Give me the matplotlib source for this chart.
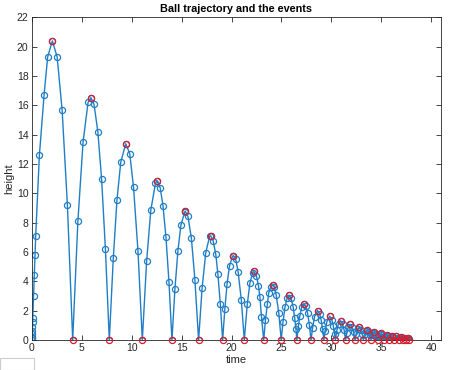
import matplotlib
matplotlib.use("Agg")
import matplotlib.pyplot as plt
from matplotlib.patches import Rectangle

# solver output points (time, height)
t_pts = [0, 0.006, 0.012, 0.02, 0.032, 0.046, 0.06, 0.075, 0.155, 0.23, 0.30, 0.37,
         0.74, 1.21, 1.57, 2.04, 2.52, 3.02, 3.55, 4.08,
         4.60, 5.12, 5.62, 5.91, 6.22, 6.60, 6.98, 7.36, 7.75,
         8.15, 8.52, 8.90, 9.40, 9.80, 10.18, 10.62, 11.06,
         11.49, 11.91, 12.38, 12.54, 12.85, 13.13, 13.43, 13.73, 14.03,
         14.33, 14.63, 14.93, 15.30, 15.37, 15.63, 15.98, 16.33, 16.70,
         17.05, 17.42, 17.80, 17.91, 18.15, 18.42, 18.63, 18.88, 19.11,
         19.33, 19.55, 19.80, 20.10, 20.19, 20.42, 20.66, 20.98, 21.28,
         21.58, 21.85, 22.12, 22.25, 22.50, 22.70, 22.85, 23.00, 23.23,
         23.40, 23.60, 23.73, 23.93, 24.11, 24.30, 24.47, 24.74, 24.98,
         25.16, 25.36, 25.58, 25.77, 25.98, 26.18, 26.33, 26.46, 26.55,
         26.70, 26.85, 27.05, 27.26, 27.45, 27.63, 27.80, 27.97,
         28.13, 28.33, 28.62, 28.83, 28.98, 29.13, 29.26,
         29.38, 29.56, 29.84, 30.06, 30.21, 30.34, 30.41,
         30.56, 30.73, 30.93, 31.13, 31.29, 31.44,
         31.56, 31.72, 31.91, 32.09, 32.24, 32.38,
         32.50, 32.63, 32.80, 32.98, 33.10, 33.22,
         33.34, 33.47, 33.60, 33.77, 33.88, 33.97,
         34.09, 34.20, 34.31, 34.47, 34.57, 34.65,
         34.76, 34.86, 34.96, 35.10, 35.19, 35.26,
         35.37, 35.54, 35.68, 35.81,
         35.91, 36.06, 36.20, 36.31,
         36.40, 36.53, 36.65, 36.75,
         36.83, 36.95, 37.06, 37.16,
         37.24, 37.34, 37.44, 37.52,
         37.60, 37.68, 37.77, 37.84]
h_pts = [0, 0.11, 0.23, 0.41, 0.64, 0.91, 1.20, 1.48, 3.0, 4.4, 5.8, 7.1,
         12.6, 16.7, 19.3, 20.39, 19.3, 15.66, 9.2, 0,
         8.1, 13.5, 16.2, 16.52, 16.06, 14.2, 10.95, 6.2, 0,
         5.6, 9.56, 12.14, 13.38, 12.7, 10.4, 6.1, 0,
         5.36, 8.85, 10.7, 10.84, 10.38, 9.16, 7.0, 3.96, 0,
         3.5, 6.1, 7.84, 8.7, 8.78, 8.43, 6.93, 4.1, 0,
         3.53, 5.96, 7.06, 7.11, 6.78, 5.85, 4.52, 2.44, 0,
         2.1, 3.8, 5.05, 5.71, 5.76, 5.51, 4.65, 2.75, 0,
         2.43, 3.9, 4.58, 4.67, 4.38, 3.70, 2.93, 1.6, 0,
         1.35, 2.45, 3.2, 3.62, 3.78, 3.58, 3.1, 1.85, 0,
         1.24, 2.24, 2.88, 3.06, 2.85, 2.24, 1.52, 0.73, 0,
         0.93, 1.65, 2.26, 2.48, 2.30, 1.81, 1.05, 0,
         0.83, 1.60, 2.01, 1.80, 1.38, 0.73, 0,
         0.61, 1.25, 1.63, 1.38, 0.94, 0.38, 0,
         0.65, 1.12, 1.32, 1.12, 0.67, 0,
         0.48, 0.90, 1.07, 0.91, 0.52, 0,
         0.42, 0.72, 0.87, 0.70, 0.43, 0,
         0.38, 0.62, 0.70, 0.56, 0.31, 0,
         0.33, 0.51, 0.57, 0.44, 0.24, 0,
         0.27, 0.41, 0.46, 0.36, 0.19, 0,
         0.24, 0.37, 0.27, 0,
         0.19, 0.30, 0.20, 0,
         0.16, 0.245, 0.16, 0,
         0.13, 0.20, 0.13, 0,
         0.11, 0.16, 0.10, 0,
         0.10, 0.13, 0.08, 0]

# events: apexes and ground contacts
apex_t = [2.04, 5.91, 9.40, 12.54, 15.37, 17.91, 20.19, 22.25, 24.11, 25.77,
          27.26, 28.62, 29.84, 30.93, 31.91, 32.80, 33.60, 34.31, 34.96, 35.54,
          36.06, 36.53, 36.95, 37.34, 37.68]
apex_h = [20.39, 16.52, 13.38, 10.84, 8.78, 7.11, 5.76, 4.67, 3.78, 3.06,
          2.48, 2.01, 1.63, 1.32, 1.07, 0.87, 0.70, 0.57, 0.46, 0.37,
          0.30, 0.245, 0.20, 0.16, 0.13]
ground_t = [4.08, 7.75, 11.06, 14.03, 16.70, 19.11, 21.28, 23.23, 24.98, 26.55,
            27.97, 29.26, 30.41, 31.44, 32.38, 33.22, 33.97, 34.65, 35.26, 35.81,
            36.31, 36.75, 37.16, 37.52, 37.84]
ground_h = [0] * len(ground_t)

x_ticks = [0, 5, 10, 15, 20, 25, 30, 35, 40]
y_ticks = [0, 2, 4, 6, 8, 10, 12, 14, 16, 18, 20, 22]

plt.rcParams['font.family'] = ['Liberation Sans', 'DejaVu Sans']

fig = plt.figure(figsize=(4.74, 3.70), dpi=100)
ax = fig.add_axes([32 / 474, 30 / 370, 409 / 474, 322.7 / 370])

blue = '#1F7EC6'
red = '#D81E2C'
ax.plot(t_pts, h_pts, '-o', color=blue, lw=1.0, ms=4.4, mfc='none', mew=0.9, zorder=2)
ax.plot(apex_t, apex_h, 'o', color=red, ms=4.4, mfc='none', mew=0.9, zorder=3)
ax.plot(ground_t, ground_h, 'o', color=red, ms=4.4, mfc='none', mew=0.9, zorder=3, clip_on=False)

ax.set_xlim(0, 41)
ax.set_ylim(0, 22)
ax.set_xticks(x_ticks)
ax.set_yticks(y_ticks)
ax.tick_params(direction='in', top=True, right=True, length=3.5, width=0.6,
               labelsize=7.5, colors='#262626', pad=2.5)
for s in ax.spines.values():
    s.set_linewidth(0.6)
    s.set_color('#262626')

ax.set_title('Ball trajectory and the events', fontsize=7.8, fontweight='bold', pad=3.5, color='black')
ax.set_xlabel('time', fontsize=8, labelpad=1, color='#262626')
ax.set_ylabel('height', fontsize=8, labelpad=2, color='#262626')

fig.add_artist(Rectangle((0, 0), 34 / 474, 12 / 370, transform=fig.transFigure,
                         facecolor='white', edgecolor='#cccccc', lw=0.8))

fig.savefig('out.png', dpi=100)
